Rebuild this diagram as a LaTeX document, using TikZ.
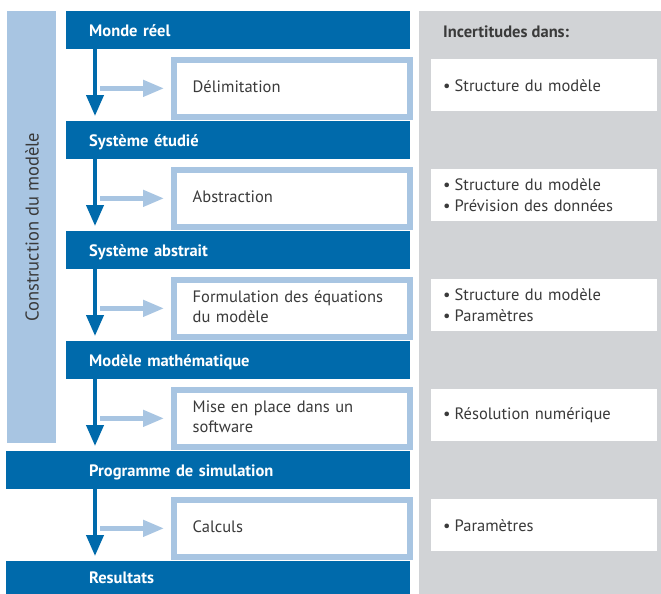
\documentclass[tikz,border=0pt]{standalone}
\usepackage{fontspec}
\setmainfont{PT Sans}
\usetikzlibrary{arrows.meta,calc}
\definecolor{dblue}{HTML}{006AAB}
\definecolor{lblue}{HTML}{A8C5E2}
\definecolor{pgray}{HTML}{D1D3D6}
\definecolor{tgray}{HTML}{3A3A3A}
\tikzset{
  hdr/.style={fill=dblue, draw=none, anchor=north west, minimum height=38pt, inner xsep=23pt, align=left, text=white, font=\fontsize{16.5}{20}\selectfont\bfseries, text depth=0pt},
  procbox/.style={draw=lblue, fill=white, line width=5.7pt, anchor=north west, minimum width=236.3pt, minimum height=57.3pt, text width=236.3pt-2*19pt, inner xsep=19pt, align=left, text=tgray, font=\fontsize{16.5}{20}\selectfont, execute at end node={\par\vspace*{4pt}}},
  unbox/.style={fill=white, draw=none, anchor=north west, minimum width=226pt, minimum height=52pt, text width=226pt-2*12pt, inner xsep=12pt, align=left, text=tgray, font=\fontsize{16.5}{20.5}\selectfont},
  flow/.style={draw=dblue, line width=4pt, -{Triangle[width=17pt,length=21pt]}, shorten >=5pt},
  feed/.style={draw=lblue, line width=4.5pt, -{Triangle[width=16pt,length=21pt]}, shorten >=4pt},
}
\begin{document}
\begin{tikzpicture}[x=1pt,y=-1pt]
\useasboundingbox (0,0) rectangle (661,594);
\coordinate (xref) at (95,0);
\coordinate (fx) at (100,0);
% right panel
\fill[pgray] (419,11) rectangle (661,594);
\node[anchor=base west, text=tgray, font=\fontsize{16.5}{20}\selectfont\bfseries, inner sep=0pt] (inc) at (443,38) {Incertitudes dans:};
% left bar
\fill[lblue] (7,11) rectangle (56,443);
\node[rotate=90, text=tgray, font=\fontsize{18.5}{22}\selectfont, inner sep=0pt] (cons) at (32,227) {Construction du modèle};
% headers
\node[hdr, minimum width=344pt, text width=344pt-46pt] (h1) at (66,11) {Monde réel};
\node[hdr, minimum width=344pt, text width=344pt-46pt] (h2) at (66,121) {Système étudié};
\node[hdr, minimum width=344pt, text width=344pt-46pt] (h3) at (66,231) {Système abstrait};
\node[hdr, minimum width=344pt, text width=344pt-46pt] (h4) at (66,341) {Modèle mathématique};
\node[hdr, minimum width=404pt, inner xsep=83pt, text width=404pt-166pt] (h5) at (6,451) {Programme de simulation};
\node[hdr, minimum width=404pt, inner xsep=83pt, text width=404pt-166pt, minimum height=33pt] (h6) at (6,561) {Resultats};
% process boxes
\node[procbox] (p1) at (170.85,56.85) {Délimitation};
\node[procbox] (p2) at (170.85,166.85) {Abstraction};
\node[procbox] (p3) at (170.85,276.85) {Formulation des équations\\du modèle};
\node[procbox] (p4) at (170.85,386.85) {Mise en place dans un\\software};
\node[procbox] (p5) at (170.85,496.85) {Calculs};
% uncertainty boxes
\node[unbox] (u1) at (431,59) {•\hspace{4pt}Structure du modèle};
\node[unbox] (u2) at (431,169) {•\hspace{4pt}Structure du modèle\\•\hspace{4pt}Prévision des données};
\node[unbox] (u3) at (431,279) {•\hspace{4pt}Structure du modèle\\•\hspace{4pt}Paramètres};
\node[unbox] (u4) at (431,389) {•\hspace{4pt}Résolution numérique};
\node[unbox] (u5) at (431,499) {•\hspace{4pt}Paramètres};
% flow arrows
\foreach \a/\b in {h1/h2,h2/h3,h3/h4,h4/h5,h5/h6}{
  \draw[flow] (\a.south -| xref) -- (\b.north -| xref);
}
% feed arrows
\foreach \p in {p1,p2,p3,p4,p5}{
  \draw[feed] (\p.west -| fx) -- ($(\p.west)+(-2.85,0)$);
}
\end{tikzpicture}
\end{document}
